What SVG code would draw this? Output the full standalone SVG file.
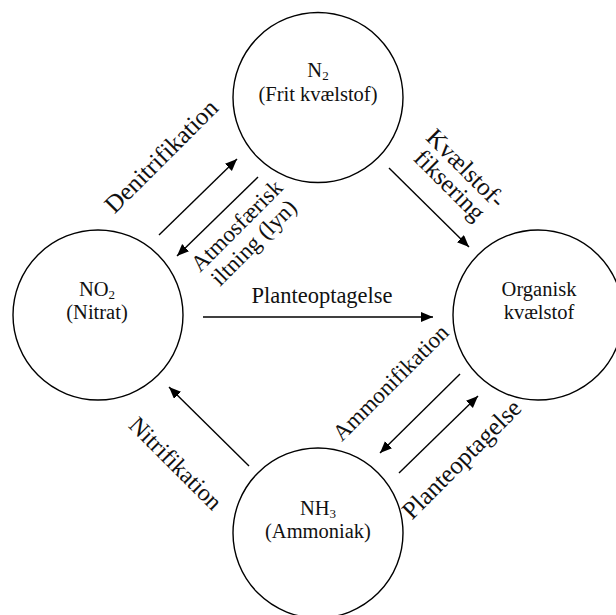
<svg xmlns="http://www.w3.org/2000/svg" width="616" height="615" viewBox="0 0 616 615">
<style>
.node{fill:#fff;stroke:#000;stroke-width:1.4}
.nt{font-family:"Liberation Serif","Times New Roman",serif;font-size:20.5px;fill:#111;text-anchor:middle}
.sub{font-size:13px}
.lbl{font-family:"Liberation Serif","Times New Roman",serif;font-size:23px;fill:#111;text-anchor:middle}
.big{font-size:25px}
.arr{stroke:#000;stroke-width:1.4;fill:none;marker-end:url(#ah)}
</style>
<defs>
<marker id="ah" markerUnits="userSpaceOnUse" markerWidth="13" markerHeight="11" refX="12" refY="5" orient="auto">
<path d="M0,0 L12,5 L0,10 z" fill="#000"/>
</marker>
</defs>
<rect width="616" height="615" fill="#fff"/>
<g id="n2">
<circle class="node" cx="318" cy="97.5" r="85"/>
<text class="nt" x="318" y="77">N<tspan class="sub" dy="3">2</tspan></text>
<text class="nt" x="318" y="101">(Frit kvælstof)</text>
</g>
<g id="no2">
<circle class="node" cx="98" cy="315" r="85"/>
<text class="nt" x="97" y="296">NO<tspan class="sub" dy="3">2</tspan></text>
<text class="nt" x="97" y="319">(Nitrat)</text>
</g>
<g id="organisk">
<circle class="node" cx="538" cy="315" r="85"/>
<text class="nt" x="539" y="296">Organisk</text>
<text class="nt" x="539" y="319">kvælstof</text>
</g>
<g id="nh3">
<circle class="node" cx="318" cy="533" r="85"/>
<text class="nt" x="318" y="515">NH<tspan class="sub" dy="3">3</tspan></text>
<text class="nt" x="318" y="538">(Ammoniak)</text>
</g>
<g id="connectors">
<line class="arr" x1="159" y1="235" x2="237" y2="159"/>
<line class="arr" x1="258" y1="177" x2="177" y2="256"/>
<line class="arr" x1="389" y1="168" x2="469" y2="247"/>
<line class="arr" x1="203" y1="317" x2="433" y2="317"/>
<line class="arr" x1="249" y1="466" x2="169" y2="387"/>
<line class="arr" x1="460" y1="374" x2="380" y2="453"/>
<line class="arr" x1="399" y1="473" x2="478" y2="396"/>
<text class="lbl big" transform="translate(167,162) rotate(-45)">Denitrifikation</text>
<text class="lbl" transform="translate(242,231) rotate(-45)">Atmosfærisk</text>
<text class="lbl" transform="translate(259,248) rotate(-45)">iltning (lyn)</text>
<text class="lbl big" transform="translate(460,174) rotate(45)">Kvælstof-</text>
<text class="lbl big" transform="translate(444,191) rotate(45)">fiksering</text>
<text class="lbl" x="322" y="303" style="font-size:22.5px">Planteoptagelse</text>
<text class="lbl" transform="translate(170,469) rotate(45)" style="font-size:24px">Nitrifikation</text>
<text class="lbl" transform="translate(396,388) rotate(-45)">Ammonifikation</text>
<text class="lbl big" transform="translate(467.5,465) rotate(-45)">Planteoptagelse</text>
</g>
</svg>
